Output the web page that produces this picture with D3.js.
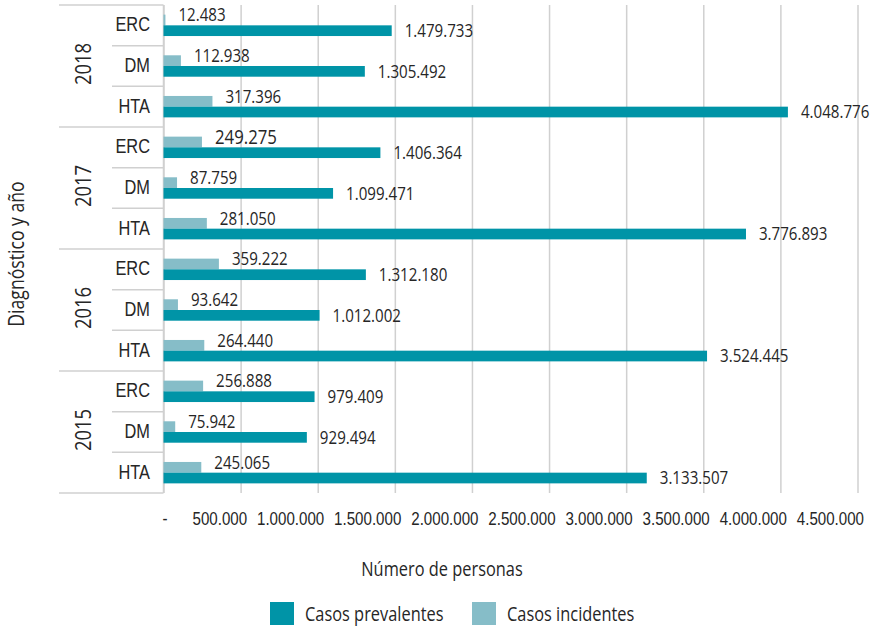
<!DOCTYPE html>
<html>
<head>
<meta charset="utf-8">
<script src="https://cdn.jsdelivr.net/npm/d3@7"></script>
<style>
  body { margin: 0; background: #fff; }
  svg { font-family: "Open Sans", "Noto Sans", sans-serif; }
  text { fill: #262626; }
</style>
</head>
<body>
<svg id="chart" width="875" height="631"></svg>
<script>
// data (top to bottom as drawn)
const years = ["2018", "2017", "2016", "2015"];
const diagnoses = ["ERC", "DM", "HTA"];
const prevalentes = [1479733, 1305492, 4048776, 1406364, 1099471, 3776893, 1312180, 1012002, 3524445, 979409, 929494, 3133507];
const incidentes = [12483, 112938, 317396, 249275, 87759, 281050, 359222, 93642, 264440, 256888, 75942, 245065];
const xTicks = [0, 500000, 1000000, 1500000, 2000000, 2500000, 3000000, 3500000, 4000000, 4500000];
const seriesNames = ["Casos prevalentes", "Casos incidentes"];
const colors = ["#0094a7", "#86bdc8"];

const rows = [];
years.forEach(yr => diagnoses.forEach(dg => rows.push({ year: yr, diag: dg, key: yr + "|" + dg })));
rows.forEach((r, i) => { r.prev = prevalentes[i]; r.inc = incidentes[i]; });

const loc = d3.formatLocale({ decimal: ",", thousands: ".", grouping: [3], currency: ["", ""] });
const fmtNum = loc.format(",d");
const fmt = v => v === 0 ? "-" : fmtNum(v);

// horizontal squeeze so the text looks like the condensed face of the original
const SX = 0.84;

const plotTop = 5, plotBottom = 493, plotLeft = 163.5, plotRight = 857.5;
const svg = d3.select("#chart");

function label(g, x, y, txt, size, anchor, rot) {
  return g.append("text")
    .attr("transform", `translate(${x},${y})${rot ? ` rotate(${rot})` : ""} scale(${SX},1)`)
    .attr("text-anchor", anchor)
    .attr("font-size", size)
    .text(txt);
}

const x = d3.scaleLinear().domain([0, 4500000]).range([plotLeft, plotRight]);
const y = d3.scaleBand().domain(rows.map(d => d.key)).range([plotTop, plotBottom]).padding(0);
const inner = d3.scaleBand().domain(["inc", "prev"]).range([0, y.bandwidth()])
  .paddingInner(0).paddingOuter(0.9);

// gridlines + tick labels
const gx = svg.append("g")
  .attr("transform", `translate(0,${plotBottom})`)
  .call(d3.axisBottom(x).tickValues(xTicks).tickSize(-(plotBottom - plotTop)).tickFormat(fmt));
gx.select(".domain").remove();
gx.selectAll(".tick line").attr("stroke", "#d0d0d0").attr("stroke-width", 1.5);
gx.selectAll(".tick text")
  .attr("y", 32).attr("dy", 0)
  .attr("text-anchor", "end")
  .attr("x", d => (d === 0 ? 3.5 : 6) / SX)
  .attr("transform", `scale(${SX},1)`)
  .attr("font-size", 18)
  .attr("fill", "#262626");

// left category structure
const sep = svg.append("g").attr("stroke", "#d0d0d0").attr("stroke-width", 1.5);
d3.range(rows.length + 1).forEach(i => {
  const yy = plotTop + i * y.step();
  sep.append("line")
    .attr("x1", i % 3 === 0 ? 59 : 112).attr("x2", plotLeft)
    .attr("y1", yy).attr("y2", yy);
});
sep.append("line").attr("x1", plotLeft).attr("x2", plotLeft).attr("y1", plotTop).attr("y2", plotBottom);

// diagnosis labels
const gy = svg.append("g")
  .attr("transform", `translate(${plotLeft},0)`)
  .call(d3.axisLeft(y).tickSize(0).tickPadding(13.5).tickFormat(k => k.split("|")[1]));
gy.select(".domain").remove();
gy.selectAll(".tick text")
  .attr("x", -13.5 / SX)
  .attr("transform", `scale(${SX},1)`)
  .attr("font-size", 19.5).attr("fill", "#262626").attr("dy", "0.3em");

// year labels
const yl = svg.append("g");
years.forEach(yr => {
  const cy = d3.mean(rows.filter(r => r.year === yr), r => y(r.key) + y.bandwidth() / 2) - 2;
  label(yl, 83, cy, yr, 22, "middle", -90).attr("dy", "0.35em");
});

// bars
const bars = svg.append("g");
bars.selectAll(".inc").data(rows).join("rect")
  .attr("x", x(0)).attr("y", d => y(d.key) + inner("inc"))
  .attr("width", d => x(d.inc) - x(0)).attr("height", inner.bandwidth())
  .attr("fill", colors[1]);
bars.selectAll(".prev").data(rows).join("rect")
  .attr("x", x(0)).attr("y", d => y(d.key) + inner("prev"))
  .attr("width", d => x(d.prev) - x(0)).attr("height", inner.bandwidth())
  .attr("fill", colors[0]);

// data labels
const labels = svg.append("g");
rows.forEach(d => {
  label(labels, x(d.prev) + 13, y(d.key) + inner("prev") + inner.bandwidth() / 2, fmt(d.prev), 18, "start")
    .attr("dy", "0.35em");
  label(labels, x(d.inc) + 13, y(d.key) + inner("inc") + inner.bandwidth() / 2 - 5, fmt(d.inc),
        d.key === "2017|ERC" ? 20 : 18, "start")
    .attr("dy", "0.35em");
});

// axis titles
label(svg, 442, 576, "Número de personas", 19.5, "middle");
label(svg, 17, 254, "Diagnóstico y año", 21, "middle", -90).attr("dy", "0.35em");

// legend
const lx = [270, 472];
seriesNames.forEach((name, i) => {
  svg.append("rect").attr("x", lx[i]).attr("y", 602).attr("width", 24).attr("height", 23).attr("fill", colors[i]);
  label(svg, lx[i] + 35, 621, name, 19.5, "start");
});
</script>
</body>
</html>
